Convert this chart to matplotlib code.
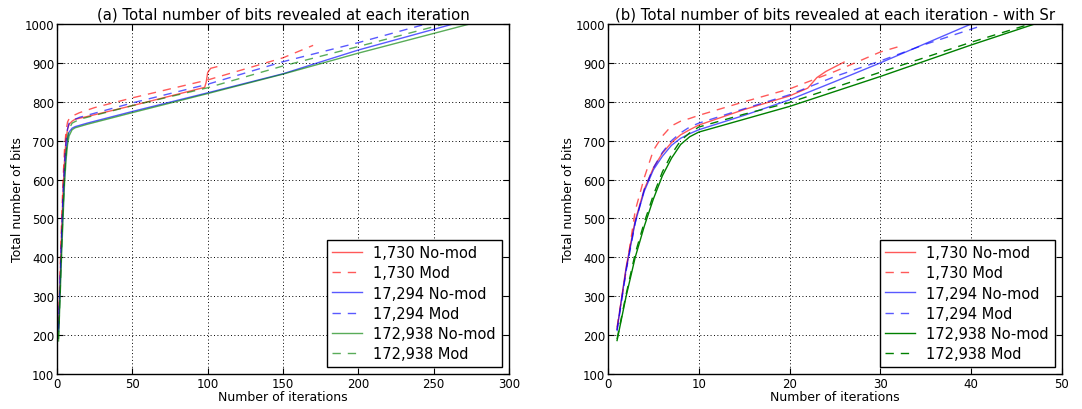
import matplotlib
matplotlib.use("Agg")
import matplotlib.pyplot as plt

# ---- data: (a) without Sr ----
a_red_nomod_x = [1, 2, 3, 4, 5, 6, 7, 8, 10, 12, 20, 50, 98, 99, 100, 102, 106]
a_red_nomod_y = [220, 340, 460, 570, 650, 705, 730, 742, 750, 755, 762, 790, 837, 850, 875, 886, 890]
a_red_mod_x = [1, 2, 3, 4, 5, 6, 7, 8, 10, 15, 25, 50, 100, 150, 170]
a_red_mod_y = [225, 360, 490, 600, 680, 725, 748, 756, 763, 772, 785, 810, 856, 913, 945]
a_blue_nomod_x = [1, 2, 3, 4, 5, 6, 7, 8, 10, 12, 20, 50, 100, 150, 200, 263]
a_blue_nomod_y = [210, 320, 430, 530, 610, 670, 705, 722, 732, 736, 745, 775, 823, 872, 933, 1000]
a_blue_mod_x = [1, 2, 3, 4, 5, 6, 7, 8, 10, 15, 50, 100, 150, 200, 245]
a_blue_mod_y = [215, 335, 455, 565, 645, 700, 730, 745, 752, 760, 797, 845, 903, 952, 1000]
a_green_nomod_x = [1, 2, 3, 4, 5, 6, 7, 8, 10, 12, 20, 50, 100, 150, 200, 274]
a_green_nomod_y = [185, 290, 400, 500, 590, 650, 690, 712, 728, 733, 742, 772, 821, 871, 925, 1000]
a_green_mod_x = [1, 2, 3, 4, 5, 6, 7, 8, 10, 15, 50, 100, 150, 200, 257]
a_green_mod_y = [190, 300, 415, 520, 610, 670, 710, 730, 745, 755, 790, 836, 892, 942, 1000]

# ---- data: (b) with Sr ----
b_red_nomod_x = [1, 2, 3, 4, 5, 6, 7, 8, 9, 10, 15, 20, 22, 23, 24, 26]
b_red_nomod_y = [215, 375, 495, 575, 630, 668, 695, 715, 728, 740, 780, 815, 835, 862, 878, 902]
b_red_mod_x = [1, 2, 3, 4, 5, 6, 7, 8, 9, 10, 15, 20, 25, 30, 32.5]
b_red_mod_y = [220, 365, 520, 605, 675, 712, 738, 750, 757, 765, 800, 833, 878, 928, 945]
b_blue_nomod_x = [1, 2, 3, 4, 5, 6, 7, 8, 9, 10, 15, 20, 25, 30, 35, 40]
b_blue_nomod_y = [215, 370, 490, 570, 625, 660, 688, 706, 718, 728, 765, 805, 852, 900, 950, 1000]
b_blue_mod_x = [1, 2, 3, 4, 5, 6, 7, 8, 9, 10, 15, 20, 25, 30, 35, 40.7]
b_blue_mod_y = [210, 365, 488, 575, 630, 670, 700, 720, 735, 745, 782, 818, 865, 905, 948, 992]
b_green_nomod_x = [1, 2, 3, 4, 5, 6, 7, 8, 9, 10, 15, 20, 30, 40, 47]
b_green_nomod_y = [186, 300, 400, 480, 550, 610, 655, 690, 710, 722, 755, 788, 865, 946, 1000]
b_green_mod_x = [1, 2, 3, 4, 5, 6, 7, 8, 9, 10, 15, 20, 30, 40, 46.5]
b_green_mod_y = [190, 305, 410, 490, 560, 620, 665, 700, 720, 735, 768, 798, 876, 953, 1000]

labels = ["1,730 No-mod", "1,730 Mod", "17,294 No-mod", "17,294 Mod",
          "172,938 No-mod", "172,938 Mod"]
titles = ["(a) Total number of bits revealed at each iteration",
          "(b) Total number of bits revealed at each iteration - with Sr"]

plt.rcParams.update({
    "font.family": "DejaVu Sans",
    "xtick.direction": "in",
    "ytick.direction": "in",
    "xtick.top": True,
    "ytick.right": True,
    "xtick.major.size": 4,
    "ytick.major.size": 4,
    "axes.linewidth": 1.0,
})

DASH = (0, (6, 5))
GRID_DOTS = (0, (1, 2.5))

fig = plt.figure(figsize=(10.82, 4.10), dpi=100)
ax_a = fig.add_axes([0.0527, 0.0854, 0.4177, 0.8537])
ax_b = fig.add_axes([0.5619, 0.0854, 0.4196, 0.8537])

series_a = [
    (a_red_nomod_x, a_red_nomod_y, "r", "-", 0.65),
    (a_red_mod_x, a_red_mod_y, "r", DASH, 0.65),
    (a_blue_nomod_x, a_blue_nomod_y, "b", "-", 0.65),
    (a_blue_mod_x, a_blue_mod_y, "b", DASH, 0.65),
    (a_green_nomod_x, a_green_nomod_y, "g", "-", 0.65),
    (a_green_mod_x, a_green_mod_y, "g", DASH, 0.65),
]
series_b = [
    (b_red_nomod_x, b_red_nomod_y, "r", "-", 0.65),
    (b_red_mod_x, b_red_mod_y, "r", DASH, 0.65),
    (b_blue_nomod_x, b_blue_nomod_y, "b", "-", 0.65),
    (b_blue_mod_x, b_blue_mod_y, "b", DASH, 0.65),
    (b_green_nomod_x, b_green_nomod_y, "g", "-", 1.0),
    (b_green_mod_x, b_green_mod_y, "g", DASH, 1.0),
]

for ax, series, title, xmax, xstep in [(ax_a, series_a, titles[0], 300, 50),
                                       (ax_b, series_b, titles[1], 50, 10)]:
    for (xs, ys, c, ls, al), lab in zip(series, labels):
        ax.plot(xs, ys, color=c, linestyle=ls, alpha=al, linewidth=1.0, label=lab)
    ax.set_xlim(0, xmax)
    ax.set_ylim(100, 1000)
    ax.set_xticks(range(0, xmax + 1, xstep))
    ax.set_yticks(range(100, 1001, 100))
    ax.tick_params(labelsize=8.5, pad=2)
    ax.grid(True, color="black", linestyle=GRID_DOTS, linewidth=0.7)
    ax.set_title(title, fontsize=10.7, pad=4)
    ax.set_xlabel("Number of iterations", fontsize=9, labelpad=0)
    ax.set_ylabel("Total number of bits", fontsize=9, labelpad=0.5)
    leg = ax.legend(loc="lower right", fontsize=10.5, fancybox=False,
                    framealpha=1.0, edgecolor="black", labelspacing=0.35,
                    handlelength=2.0, borderaxespad=0.5)
    leg.get_frame().set_linewidth(1.0)

fig.savefig("out.png", dpi=100)
